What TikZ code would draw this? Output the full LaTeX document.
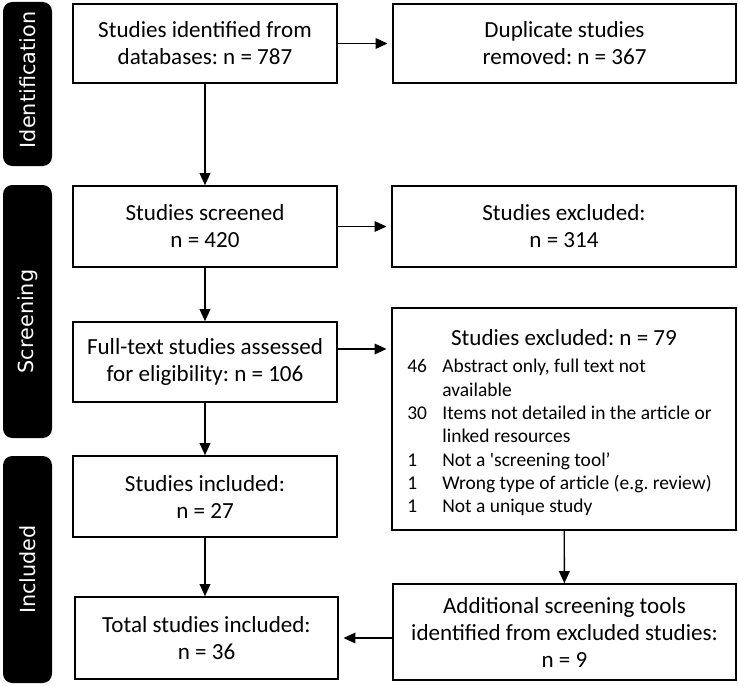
\documentclass[tikz,border=0pt]{standalone}
\usepackage{fontspec}
\setmainfont{Carlito}[Ligatures=TeXOff]
\newfontfamily\barfont{DejaVu Sans}
\usetikzlibrary{arrows.meta}
\newdimen\pxu
\pxu=0.75pt
\frenchspacing

\begin{document}
\begin{tikzpicture}[x=0.75pt, y=-0.75pt, >={Triangle[length=9pt, width=8pt]}, line width=1pt]
        \useasboundingbox (0,0) rectangle (738,685);

        % stage labels
        \begin{scope}[every node/.style={fill=black, rounded corners=7pt, rotate=90, text=white, inner sep=0pt, font=\barfont\fontsize{15.6}{18}\selectfont}]
            \node[minimum width=164\pxu, minimum height=49\pxu] (id) at (27.5, 84) {Identification\hspace*{-8\pxu}};
            \node[minimum width=253\pxu, minimum height=49\pxu] (sc) at (27.5, 311.5) {Screening\hspace*{20\pxu}};
            \node[minimum width=227\pxu, minimum height=49\pxu] (in) at (27.5, 569.5) {Included};
        \end{scope}

        % boxes
        \begin{scope}[every node/.style={draw, line width=1.2pt, inner sep=0pt, align=center, font=\fontsize{17.3}{20.25}\selectfont}]
            \node[minimum width=264\pxu, minimum height=79\pxu] (1) at (205, 43.5) {Studies identified from\\databases: n = 787};
            \node[minimum width=343\pxu, minimum height=79\pxu] (2) at (564.5, 43.5) {Duplicate studies\\removed: n = 367};
            \node[minimum width=264\pxu, minimum height=81\pxu] (3) at (205, 226.5) {Studies screened\\n = 420};
            \node[minimum width=344\pxu, minimum height=81\pxu] (4) at (564, 226.5) {Studies excluded:\\n = 314};
            \node[minimum width=264\pxu, minimum height=80\pxu] (5) at (205, 362) {Full-text studies assessed\\for eligibility: n = 106};
            \node[minimum width=344\pxu, minimum height=222\pxu] (6) at (564, 419) {\fontsize{14.6}{17.5}\selectfont
                \begin{tabular}{@{}p{35\pxu}@{}l@{\hspace{9\pxu}}}
                    \multicolumn{2}{c}{\fontsize{17.3}{20.25}\selectfont\rule{0pt}{20.5pt}Studies excluded: n = 79}\\[2.75pt]
                    46 & Abstract only, full text not\\
                       & available\\
                    30 & Items not detailed in the article or\\
                       & linked resources\\
                    1 & Not a 'screening tool’\\
                    1 & Wrong type of article (e.g. review)\\
                    1 & Not a unique study
                \end{tabular}};
            \node[minimum width=264\pxu, minimum height=81\pxu] (7) at (205, 496.5) {Studies included:\\n = 27};
            \node[minimum width=263\pxu, minimum height=82\pxu] (8) at (206.5, 638) {Total studies included:\\n = 36};
            \node[minimum width=343\pxu, minimum height=96\pxu] (9) at (564.5, 632) {Additional screening tools\\identified from excluded studies:\\n = 9};
        \end{scope}

        \draw[->, shorten >=3.5pt] (1) -- (2);
        \draw[->] (1) -- (3);
        \draw[->, shorten >=3.5pt] (3) -- (4);
        \draw[->] (3) -- (5);
        \draw[->, shorten >=3.5pt] ([yshift=9.75pt]5.east) -- ([yshift=9.75pt]5.east -| 6.west);
        \draw[->] (5) -- (7);
        \draw[->] (7.south) -- (7.south |- 8.north);
        \draw[->] (6) -- (9);
        \draw[->, shorten >=3.5pt] (9.west |- 8.east) -- (8.east);
    \end{tikzpicture}
\end{document}
